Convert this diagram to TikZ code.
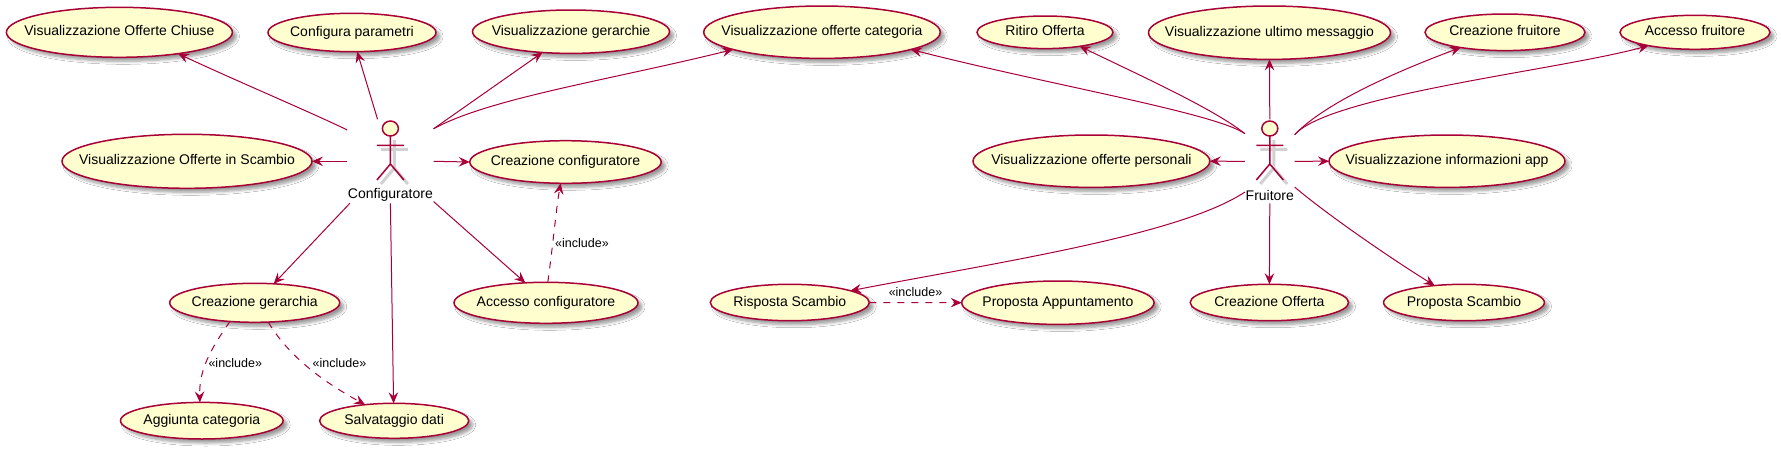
\documentclass[tikz,border=0pt]{standalone}
\usepackage{fontspec}
\setmainfont{Liberation Sans}
\usetikzlibrary{shapes.geometric,arrows.meta,shadows.blur}
\definecolor{umlline}{HTML}{A80036}
\definecolor{umlfill}{HTML}{FEFECE}
\tikzset{
  uc/.style={ellipse,draw=umlline,fill=umlfill,line width=1.5pt,inner ysep=0pt,inner xsep=-60pt,outer sep=0pt,
    font=\fontsize{14}{16}\selectfont,text height=10pt,text depth=3pt,text=black,
    blur shadow={shadow xshift=4pt,shadow yshift=-4pt,shadow blur radius=3pt,shadow blur steps=6,shadow opacity=40}},
  actorbox/.style={rectangle,inner sep=0pt,outer sep=0pt},
  actorname/.style={font=\fontsize{14}{16}\selectfont,inner sep=0pt,text=black},
  inclabel/.style={font=\fontsize{12.5}{15}\selectfont,inner sep=0pt,text=black},
  actorhead/.style={ellipse,draw=umlline,fill=umlfill,line width=1.5pt,inner sep=0pt,outer sep=0pt,minimum width=16pt,minimum height=15pt},
  actorline/.style={draw=umlline,line width=1.5pt},
  actorshade/.style={draw=black!18,line width=3pt},
  assoc/.style={draw=umlline,line width=1pt,-{Stealth[length=11pt,width=9.5pt,inset=4pt]}},
  incl/.style={assoc,dash pattern=on 7pt off 7pt}
}
\newcommand{\stickfigure}[2]{% name, x of the figure
  \begin{scope}[shift={(#2+4,4)}]
    \draw[actorshade] (0,136)--(0,164) (-13.5,145.3)--(13.5,145.3) (-13.5,180)--(0,164)--(13.5,180);
  \end{scope}
  \begin{scope}[shift={(#2,0)}]
    \node[actorhead] (#1) at (0,128.5) {};
    \draw[actorline] (#1.south)--(0,164) (-13.5,145.3)--(13.5,145.3) (-13.5,180)--(0,164)--(13.5,180);
  \end{scope}}
\begin{document}
\begin{tikzpicture}[x=1pt,y=-1pt]
\useasboundingbox (0,0) rectangle (1781,450);
\fill[white] (0,0) rectangle (1781,450);
% use cases
\node[uc,minimum width=226pt,minimum height=50pt] (chiuse) at (119.4,32.3) {Visualizzazione Offerte Chiuse};
\node[uc,minimum width=168pt,minimum height=38.4pt] (param) at (352,32.5) {Configura parametri};
\node[uc,minimum width=197pt,minimum height=43.4pt] (gerar) at (571,31.7) {Visualizzazione gerarchie};
\node[uc,minimum width=236.6pt,minimum height=52.4pt] (categ) at (822,32.2) {Visualizzazione offerte categoria};
\node[uc,minimum width=136pt,minimum height=32.6pt] (ritiro) at (1045,32.3) {Ritiro Offerta};
\node[uc,minimum width=242pt,minimum height=53.4pt] (ultimo) at (1269.5,32.7) {Visualizzazione ultimo messaggio};
\node[uc,minimum width=160pt,minimum height=36.6pt] (creaf) at (1505,32.3) {Creazione fruitore};
\node[uc,minimum width=150pt,minimum height=34pt] (accf) at (1695,32.3) {Accesso fruitore};
\node[uc,minimum width=250pt,minimum height=54pt] (scamb) at (187,161.3) {Visualizzazione Offerte in Scambio};
\node[uc,minimum width=191.4pt,minimum height=42.6pt] (creac) at (565.5,162) {Creazione configuratore};
\node[uc,minimum width=236.8pt,minimum height=52.4pt] (pers) at (1091.4,161.2) {Visualizzazione offerte personali};
\node[uc,minimum width=236pt,minimum height=52.4pt] (info) at (1447,161.2) {Visualizzazione informazioni app};
\node[uc,minimum width=170pt,minimum height=39pt] (creag) at (254.7,302.8) {Creazione gerarchia};
\node[uc,minimum width=184pt,minimum height=41pt] (accc) at (546,302.8) {Accesso configuratore};
\node[uc,minimum width=159pt,minimum height=36.4pt] (risp) at (789.8,302.5) {Risposta Scambio};
\node[uc,minimum width=192.4pt,minimum height=43.4pt] (appt) at (1057.9,302.7) {Proposta Appuntamento};
\node[uc,minimum width=158.4pt,minimum height=36.4pt] (creao) at (1269.4,302.5) {Creazione Offerta};
\node[uc,minimum width=160.8pt,minimum height=36.4pt] (props) at (1464,302.5) {Proposta Scambio};
\node[uc,minimum width=162.6pt,minimum height=36.6pt] (aggc) at (201.8,420.7) {Aggiunta categoria};
\node[uc,minimum width=149.2pt,minimum height=35pt] (salv) at (394.2,420.8) {Salvataggio dati};
% actors
\stickfigure{cfghead}{390.4}
\stickfigure{fruhead}{1269.8}
\node[actorbox,minimum width=86.4pt,minimum height=84pt] (cfg) at (390.4,161.3) {};
\node[actorbox,minimum width=49.8pt,minimum height=84pt] (fru) at (1269.8,161.3) {};
\node[actorname] (cfgname) at (390.4,195) {Configuratore};
\node[actorname] (fruname) at (1269.8,195) {Fruitore};
% Configuratore
\draw[assoc] (cfg.144.7) .. controls (310,112) and (230,78) .. (chiuse.-20.6);
\draw[assoc] (cfg.107.3) -- (param.-75.4);
\draw[assoc] (cfg.37) -- (gerar.216.2);
\draw[assoc] (cfg.37) .. controls (490,98) and (610,80) .. (categ.191.5);
\draw[assoc] (cfg.west) -- (scamb.east);
\draw[assoc] (cfg.east) -- (creac.west);
\draw[assoc] (cfg.226.3) -- (creag.45.9);
\draw[assoc] (cfg.south) -- (salv.92);
\draw[assoc] (cfg.-43) -- (accc.136.6);
\draw[incl] (accc.85) .. controls (553,245) and (556,210) .. (creac.257);
\draw[incl] (creag.217.8) .. controls (210,350) and (199,370) .. (aggc.96);
\draw[incl] (creag.-55.9) .. controls (288,355) and (320,380) .. (salv.151.7);
% Fruitore
\draw[assoc] (fru.132.4) .. controls (1215,110) and (1150,80) .. (ritiro.-22.9);
\draw[assoc] (fru.132.4) .. controls (1215,113) and (1050,85) .. (categ.-11.8);
\draw[assoc] (fru.north) -- (ultimo.south);
\draw[assoc] (fru.47.6) .. controls (1325,103) and (1395,72) .. (creaf.199.4);
\draw[assoc] (fru.47.6) .. controls (1330,95) and (1560,70) .. (accf.196.1);
\draw[assoc] (fru.west) -- (pers.east);
\draw[assoc] (fru.east) -- (info.west);
\draw[assoc] (fru.231.5) .. controls (1180,235) and (1000,262) .. (risp.11);
\draw[assoc] (fru.south) -- (creao.north);
\draw[assoc] (fru.-46.2) .. controls (1325,213) and (1390,258) .. (props.150);
\draw[incl] (risp.east) -- (appt.west);
% include labels
\node[inclabel] (l1) at (582,243) {«include»};
\node[inclabel] (l2) at (235.3,363.3) {«include»};
\node[inclabel] (l3) at (339.5,363.3) {«include»};
\node[inclabel] (l4) at (915.5,292.3) {«include»};
\end{tikzpicture}
\end{document}
